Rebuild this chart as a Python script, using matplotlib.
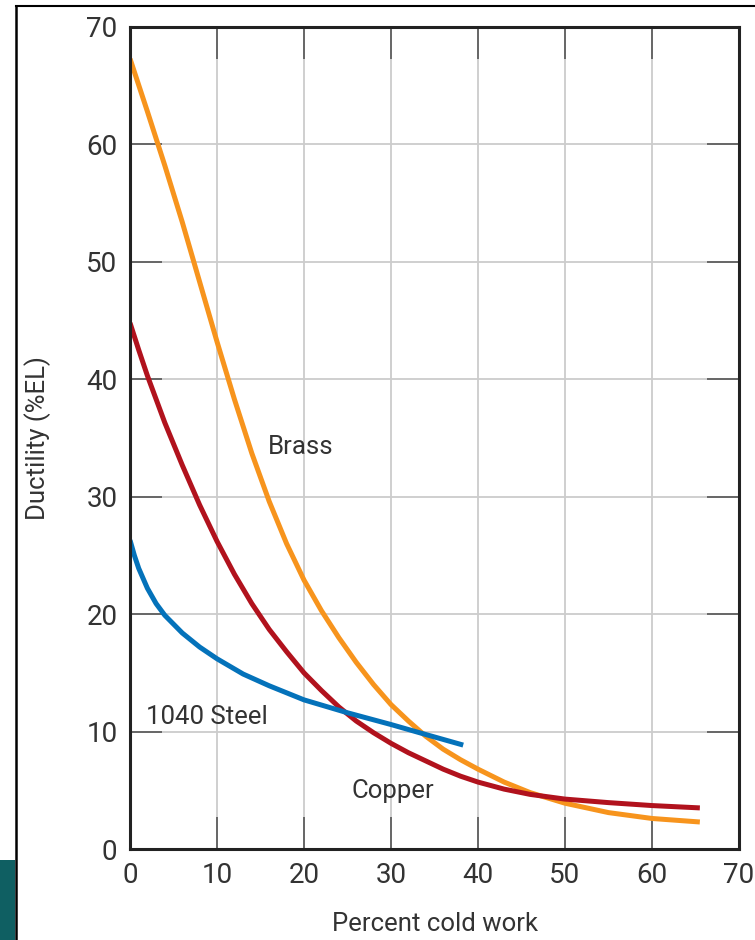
import matplotlib.pyplot as plt
from matplotlib.lines import Line2D
from matplotlib.patches import Rectangle

# values (percent cold work -> ductility %EL)
brass_x = [0, 2, 4, 6, 8, 10, 12, 14, 16, 18, 20, 22, 24, 26, 28, 30, 32, 34, 36, 38, 40, 43, 46, 50, 55, 60, 65.5]
brass_y = [67.3, 62.8, 58.2, 53.4, 48.3, 43.2, 38.3, 33.7, 29.6, 26.0, 22.9, 20.3, 18.0, 15.9, 14.0, 12.3,
           10.9, 9.6, 8.5, 7.6, 6.8, 5.7, 4.8, 3.9, 3.1, 2.6, 2.3]

copper_x = [0, 1, 2, 4, 6, 8, 10, 12, 14, 16, 18, 20, 22, 24, 26, 28, 30, 32, 34, 36, 38, 40, 43, 46, 50, 55, 60, 65.5]
copper_y = [44.8, 42.5, 40.3, 36.3, 32.7, 29.3, 26.2, 23.4, 20.9, 18.7, 16.8, 15.0, 13.5, 12.1, 10.9, 9.9, 9.0,
            8.2, 7.5, 6.8, 6.2, 5.7, 5.1, 4.65, 4.25, 3.95, 3.7, 3.5]

steel_x = [0, 0.5, 1, 2, 3, 4, 6, 8, 10, 13, 16, 20, 25, 30, 34, 38.3]
steel_y = [26.3, 25.0, 23.9, 22.2, 20.9, 19.9, 18.4, 17.2, 16.2, 14.9, 13.9, 12.7, 11.6, 10.6, 9.75, 8.85]

ticks = [0, 10, 20, 30, 40, 50, 60, 70]

plt.rcParams['font.family'] = ['Roboto', 'DejaVu Sans']

fig = plt.figure(figsize=(7.55, 9.40), dpi=100)
ax = fig.add_axes([0.1722, 0.0968, 0.8066, 0.8745])

line_kw = dict(lw=3.6, solid_capstyle='butt', solid_joinstyle='round')
ax.plot(brass_x, brass_y, color='#F7941D', **line_kw)
ax.plot(copper_x, copper_y, color='#B1121D', **line_kw)
ax.plot(steel_x, steel_y, color='#0472BA', **line_kw)

ax.text(15.9, 34.2, 'Brass', fontsize=18.5, color='#333333', va='center')
ax.text(1.8, 11.2, '1040 Steel', fontsize=18.5, color='#333333', va='center')
ax.text(25.5, 4.9, 'Copper', fontsize=18.5, color='#333333', va='center')

ax.set_xlim(0, 70)
ax.set_ylim(0, 70)
ax.set_xticks(ticks)
ax.set_yticks(ticks)
ax.grid(True, color='#cccccc', lw=1.3)
ax.set_axisbelow(True)
ax.tick_params(direction='in', length=23, width=1.2, color='#555555',
               top=True, right=True, labelsize=20, labelcolor='#333333', pad=9)
for s in ax.spines.values():
    s.set_linewidth(2.2)
    s.set_color('#222222')

ax.set_xlabel('Percent cold work', fontsize=18.5, color='#333333')
ax.set_ylabel('Ductility (%EL)', fontsize=18.5, color='#333333')
ax.xaxis.set_label_coords(0.5, -0.0766)
ax.yaxis.set_label_coords(-0.13, 0.5)

# screenshot frame around the figure
fig.add_artist(Line2D([16 / 755, 1], [1 - 6 / 940, 1 - 6 / 940], color='black', lw=1.5))
fig.add_artist(Line2D([16 / 755, 16 / 755], [0, 1 - 6 / 940], color='black', lw=1.8))
fig.add_artist(Rectangle((0, 0), 15 / 755, 80 / 940, color='#0f5f62', lw=0))

fig.savefig('out.png', dpi=100)
